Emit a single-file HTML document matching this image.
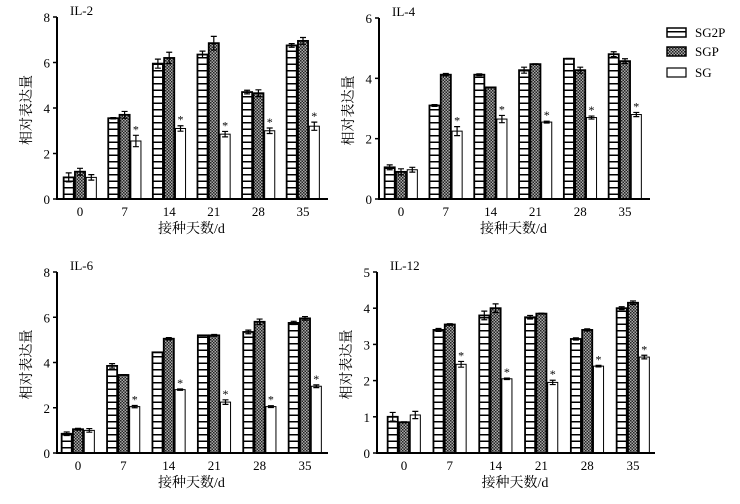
<!DOCTYPE html>
<html><head><meta charset="utf-8"><style>
body{margin:0;background:#fff;}
svg text{font-family:"Liberation Serif","Noto Serif CJK SC",serif;fill:#000;}
</style></head><body>
<svg id="chart" width="740" height="499" viewBox="0 0 740 499" xmlns="http://www.w3.org/2000/svg">
<defs>
<pattern id="hz" width="6" height="6.5" patternUnits="userSpaceOnUse"><rect width="6" height="6.5" fill="#fff"/><rect y="5" width="6" height="1.5" fill="#000"/></pattern>
<pattern id="ck" width="3" height="3" patternUnits="userSpaceOnUse"><rect width="3" height="3" fill="#aaa"/><rect width="1.5" height="1.5" fill="#222"/><rect x="1.5" y="1.5" width="1.5" height="1.5" fill="#222"/></pattern>
</defs>
<g>
<rect x="667" y="28" width="19" height="9" fill="url(#hz)" stroke="#000" stroke-width="1.5"/>
<text x="695" y="37" font-size="13">SG2P</text>
<rect x="667" y="47" width="19" height="9" fill="url(#ck)" stroke="#000" stroke-width="1.5"/>
<text x="695" y="56" font-size="13">SGP</text>
<rect x="667" y="68" width="19" height="9" fill="#fff" stroke="#000" stroke-width="1.2"/>
<text x="695" y="77" font-size="13">SG</text>
</g>
</svg>
<script>
const categories=["0","7","14","21","28","35"];
const il2_sg2p=[0.95,3.55,5.95,6.35,4.7,6.75], il2_sgp=[1.2,3.7,6.2,6.85,4.65,6.95], il2_sg=[0.95,2.55,3.1,2.85,3.0,3.2];
const il2_err=[[0.2,0.03,0.2,0.15,0.08,0.08],[0.15,0.15,0.25,0.3,0.15,0.15],[0.12,0.25,0.12,0.12,0.12,0.18]];
const il4_sg2p=[1.05,3.1,4.12,4.27,4.65,4.8], il4_sgp=[0.9,4.12,3.7,4.47,4.27,4.57], il4_sg=[0.97,2.25,2.65,2.55,2.7,2.8];
const il4_err=[[0.08,0.03,0.03,0.1,0.01,0.08],[0.1,0.04,0.01,0.01,0.1,0.08],[0.08,0.15,0.12,0.03,0.05,0.07]];
const il6_sg2p=[0.85,3.85,4.45,5.2,5.35,5.75], il6_sgp=[1.05,3.45,5.05,5.2,5.8,5.95], il6_sg=[1.0,2.05,2.8,2.25,2.05,2.95];
const il6_err=[[0.08,0.1,0.01,0.01,0.08,0.07],[0.04,0.01,0.05,0.04,0.12,0.08],[0.08,0.05,0.03,0.1,0.04,0.06]];
const il12_sg2p=[1.0,3.4,3.8,3.75,3.15,4.0], il12_sgp=[0.85,3.55,4.0,3.85,3.4,4.15], il12_sg=[1.05,2.45,2.05,1.95,2.4,2.65];
const il12_err=[[0.12,0.04,0.12,0.05,0.03,0.04],[0.01,0.02,0.12,0.01,0.03,0.05],[0.1,0.08,0.02,0.06,0.02,0.05]];
const panels=[
 {name:"il-2",title:"IL-2",x0:57,x1:328,yt:17,yb:199,max:8,step:2,c0:80,c35:303,s:[il2_sg2p,il2_sgp,il2_sg],e:il2_err},
 {name:"il-4",title:"IL-4",x0:379,x1:650,yt:18,yb:199,max:6,step:2,c0:401,c35:625,s:[il4_sg2p,il4_sgp,il4_sg],e:il4_err},
 {name:"il-6",title:"IL-6",x0:57,x1:328,yt:272,yb:453,max:8,step:2,c0:78,c35:305,s:[il6_sg2p,il6_sgp,il6_sg],e:il6_err},
 {name:"il-12",title:"IL-12",x0:377,x1:655,yt:272,yb:453,max:5,step:1,c0:404,c35:633,s:[il12_sg2p,il12_sgp,il12_sg],e:il12_err}];
const svg=document.getElementById('chart');
const NS="http://www.w3.org/2000/svg";
function mk(t,a,p){const e=document.createElementNS(NS,t);for(const k in a)e.setAttribute(k,a[k]);(p||svg).appendChild(e);return e;}
const fills=["url(#hz)","url(#ck)","#fff"], sn=["sg2p","sgp","sg"];
panels.forEach(P=>{
 const g=mk('g',{});
 
 
 const y=v=>P.yb-(v/P.max)*(P.yb-P.yt);
 const cx=i=>P.c0+i*(P.c35-P.c0)/(categories.length-1);
 const bw=11.3;
 P.s.forEach((arr,si)=>arr.forEach((v,i)=>{
  const x=cx(i)-1.5*bw+si*bw;
  const r=mk('rect',{x:x+0.6,y:y(v),width:bw-1.2,height:P.yb-y(v),fill:fills[si],stroke:'#000','stroke-width':si==2?1:1.8},g);
  
  
  const er=P.e[si][i], mx=x+bw/2;
  const eb=mk('path',{d:`M${mx},${y(v+er)}V${y(v-er)}M${mx-3},${y(v+er)}h6M${mx-3},${y(v-er)}h6`,stroke:'#000','stroke-width':1.2,fill:'none'},g);
  
  
  if(si==2&&i>0){const st=mk('text',{x:mx,y:y(v+er)-2,'font-size':12,'text-anchor':'middle'},g);st.textContent='*';
   
   }
 }));
 const ax=mk('path',{d:`M${P.x0},${P.yt}V${P.yb}H${P.x1}`,stroke:'#000','stroke-width':2,fill:'none'},g);
 
 
 for(let v=0;v<=P.max;v+=P.step){
  mk('line',{x1:P.x0-4,x2:P.x0,y1:y(v),y2:y(v),stroke:'#000','stroke-width':1.5},g);
  const t=mk('text',{x:P.x0-7,y:y(v)+5,'font-size':13,'text-anchor':'end'},g);t.textContent=v;
  
  
 }
 categories.forEach((c,i)=>{const t=mk('text',{x:cx(i),y:P.yb+17,'font-size':13,'text-anchor':'middle'},g);t.textContent=c;
  
  });
 const tt=mk('text',{x:P.x0+13,y:P.yt-2,'font-size':13},g);tt.textContent=P.title;
 
 
 const xl=mk('text',{x:(P.x0+P.x1)/2-1,y:P.yb+34,'font-size':14,'text-anchor':'middle'},g);xl.textContent='接种天数/d';
 
 
 const ym=(P.yt+P.yb)/2+2;
 const yl=mk('text',{x:P.x0-26,y:ym,'font-size':14,'text-anchor':'middle',transform:`rotate(-90 ${P.x0-26} ${ym})`},g);yl.textContent='相对表达量';
 
 
});
</script>
</body></html>
